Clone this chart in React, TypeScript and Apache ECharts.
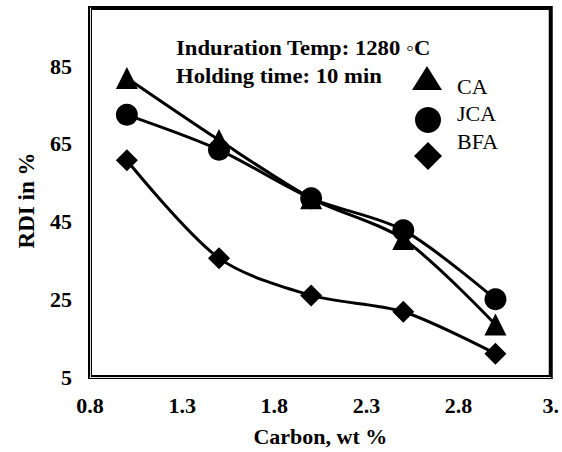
import React, { useEffect, useRef } from "react";
import * as echarts from "echarts";

const carbon = [1.0, 1.5, 2.0, 2.5, 3.0];
const caValues = [82, 66, 51, 40.5, 18.5];
const jcaValues = [72.5, 63.5, 51, 42.8, 25];
const bfaValues = [60.8, 35.6, 26, 21.8, 11];
const seriesNames = ["CA", "JCA", "BFA"];
const annotationLines = ["Induration Temp: 1280 \u25E6C", "Holding time: 10 min"];

const FONT = "'Liberation Serif', 'Times New Roman', serif";

export default function App() {
  const ref = useRef<HTMLDivElement>(null);
  useEffect(() => {
    document.body.style.margin = "0";
    const chart = echarts.init(ref.current!, null, { renderer: "svg" });
    const mk = (vals: number[]) => carbon.map((c, i) => [c, vals[i]]);
    const lineStyle = { color: "#000", width: 3 };
    chart.setOption({
      animation: false,
      backgroundColor: "#fff",
      grid: { left: 90, right: 10, top: 8, bottom: 71, show: true, borderColor: "#000", borderWidth: 4 },
      xAxis: {
        type: "value",
        min: 0.8,
        max: 3.3,
        interval: 0.5,
        name: "Carbon, wt %",
        nameLocation: "middle",
        nameGap: 48,
        nameTextStyle: { fontFamily: FONT, fontWeight: "bold", fontSize: 22, color: "#000" },
        axisLine: { show: true, onZero: false, lineStyle: { color: "#e0e0e0", width: 1 } },
        axisTick: { show: false },
        splitLine: { show: false },
        axisLabel: {
          fontFamily: FONT,
          fontWeight: "bold",
          fontSize: 22,
          color: "#000",
          margin: 17,
          formatter: (v: number) => (v > 3.25 ? "3." : v.toFixed(1)),
        },
      },
      yAxis: {
        type: "value",
        min: 5,
        max: 100,
        interval: 20,
        name: "RDI in %",
        nameLocation: "middle",
        nameGap: 52,
        nameTextStyle: { fontFamily: FONT, fontWeight: "bold", fontSize: 23, color: "#000", padding: [0, 0, 0, -16] },
        axisLine: { show: true, onZero: false, lineStyle: { color: "#e0e0e0", width: 1 } },
        axisTick: { show: false },
        splitLine: { show: false },
        axisLabel: {
          fontFamily: FONT,
          fontWeight: "bold",
          fontSize: 22,
          color: "#000",
          margin: 18,
          showMaxLabel: false,
          formatter: (v: number) => (v >= 99 ? "" : String(v)),
        },
      },
      series: [
        { name: seriesNames[0], type: "line", data: mk(caValues), smooth: 0.3, symbol: "triangle", symbolSize: 22, itemStyle: { color: "#000" }, lineStyle },
        { name: seriesNames[1], type: "line", data: mk(jcaValues), smooth: 0.3, symbol: "circle", symbolSize: 22, itemStyle: { color: "#000" }, lineStyle },
        { name: seriesNames[2], type: "line", data: mk(bfaValues), smooth: 0.3, symbol: "diamond", symbolSize: 22, itemStyle: { color: "#000" }, lineStyle },
      ],
      graphic: [
        { type: "text", x: 176, y: 38, scaleX: 1.08, style: { text: annotationLines[0], font: `bold 21px ${FONT}`, fill: "#000" } },
        { type: "text", x: 176, y: 66, scaleX: 1.08, style: { text: annotationLines[1], font: `bold 21px ${FONT}`, fill: "#000" } },
        { type: "polygon", shape: { points: [[427, 66], [442, 90], [412, 90]] }, style: { fill: "#000" } },
        { type: "circle", shape: { cx: 428, cy: 120, r: 13 }, style: { fill: "#000" } },
        { type: "polygon", shape: { points: [[428, 142], [442, 156], [428, 170], [414, 156]] }, style: { fill: "#000" } },
        { type: "text", left: 457, top: 75, style: { text: seriesNames[0], font: `22px ${FONT}`, fill: "#000" } },
        { type: "text", left: 457, top: 102, style: { text: seriesNames[1], font: `22px ${FONT}`, fill: "#000" } },
        { type: "text", left: 457, top: 130, style: { text: seriesNames[2], font: `22px ${FONT}`, fill: "#000" } },
      ],
    });
    return () => chart.dispose();
  }, []);
  return <div ref={ref} style={{ width: 562, height: 452 }} />;
}
